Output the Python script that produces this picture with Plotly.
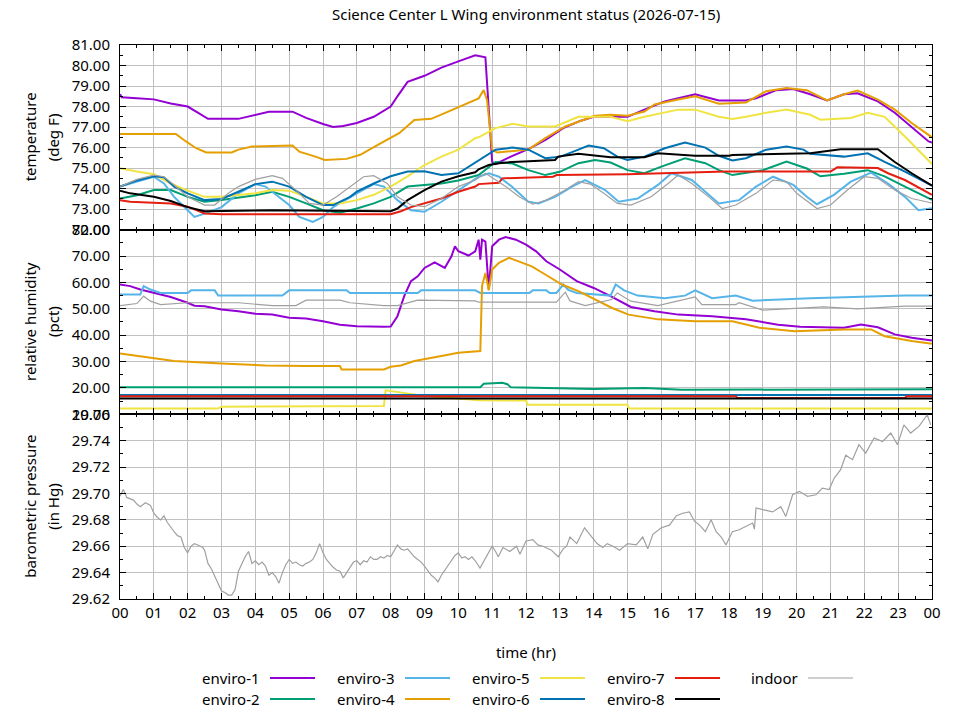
import plotly.graph_objects as go
from plotly.subplots import make_subplots

TITLE = "Science Center L Wing environment status (2026-07-15)"
NAMES = ["enviro-1", "enviro-2", "enviro-3", "enviro-4", "enviro-5",
         "enviro-6", "enviro-7", "enviro-8", "indoor"]
COLORS = ["#9400d3", "#009e73", "#56b4e9", "#e69f00", "#f0e442",
          "#0072b2", "#e51e10", "#000000", "#a0a0a0"]
HOURS = list(range(25))
HOUR_LABELS = ["%02d" % (h % 24) for h in HOURS]
Y_TITLES = [("temperature", "(deg F)"), ("relative humidity", "(pct)"),
            ("barometric pressure", "(in Hg)")]

# ---- temperature (deg F) ----
t_e1 = [0, 0.05, 0.5, 1, 1.5, 2, 2.3, 2.6, 3.5, 3.9, 4.4, 5.1, 5.5, 6, 6.3, 6.6, 7, 7.5, 7.8, 8,
        8.2, 8.5, 9, 9.5, 10, 10.3, 10.5, 10.8, 10.9, 11.0, 11.1, 11.6, 12.1, 12.6, 13.1, 13.6, 14.0,
        15.0, 15.5, 16.1, 16.5, 17.0, 17.7, 18.5, 18.8, 19.4, 19.9, 20.4, 20.9, 21.4, 21.8, 22.4,
        22.9, 23.4, 23.9, 24]
v_e1 = [78.6, 78.45, 78.4, 78.35, 78.15, 78.0, 77.7, 77.4, 77.4, 77.55, 77.75, 77.75, 77.45, 77.15,
        77.0, 77.05, 77.2, 77.5, 77.8, 78.0, 78.5, 79.2, 79.5, 79.9, 80.2, 80.4, 80.5, 80.4, 78.0,
        75.3, 75.2, 75.6, 75.95, 76.4, 76.95, 77.3, 77.5, 77.5, 77.85, 78.25, 78.4, 78.6, 78.3,
        78.3, 78.4, 78.8, 78.85, 78.6, 78.3, 78.6, 78.65, 78.25, 77.7, 77.0, 76.3, 76.25]

t_e2 = [0, 0.5, 1, 1.5, 2, 2.5, 3, 3.5, 4, 4.5, 5, 5.5, 6, 6.5, 7, 7.5, 8, 8.5, 9, 9.5, 10, 10.6,
        11.1, 11.6, 12.07, 12.57, 13.0, 13.55, 14.04, 14.5, 15.0, 15.5, 16.0, 16.7, 17.3, 17.7,
        18.1, 19.0, 19.7, 20.3, 20.7, 21.4, 22.1, 22.6, 23.2, 24]
v_e2 = [73.52, 73.68, 73.93, 73.93, 73.6, 73.36, 73.45, 73.57, 73.68, 73.85, 73.6, 73.28, 72.95,
        72.82, 73.03, 73.28, 73.6, 74.1, 74.18, 74.25, 74.4, 74.66, 75.3, 75.22, 74.9, 74.66,
        74.82, 75.24, 75.4, 75.27, 74.9, 74.75, 75.07, 75.48, 75.24, 74.9, 74.66, 74.9, 75.32,
        74.98, 74.6, 74.72, 74.9, 74.6, 74.1, 73.45]

t_e3 = [0, 0.5, 1, 1.3, 1.6, 2, 2.2, 2.5, 3, 3.5, 4, 4.3, 4.7, 5, 5.3, 5.7, 6, 6.3, 7, 7.5, 7.8,
        8.2, 8.6, 9, 9.5, 10, 10.6, 10.9, 11.2, 11.58, 12.07, 12.37, 12.86, 13.36, 13.75, 14.34,
        14.74, 15.3, 15.9, 16.3, 16.9, 17.3, 17.7, 18.3, 18.8, 19.3, 19.9, 20.3, 20.6, 21.1, 21.6,
        22.2, 22.7, 23.2, 23.6, 24]
v_e3 = [74.1, 74.34, 74.58, 74.25, 73.6, 72.95, 72.62, 72.78, 73.1, 73.77, 74.22, 74.1, 73.6,
        73.2, 72.62, 72.38, 72.62, 73.1, 73.77, 74.22, 74.1, 73.44, 72.95, 72.87, 73.36, 73.93,
        74.58, 74.75, 74.58, 74.1, 73.36, 73.28, 73.6, 74.1, 74.42, 73.93, 73.36, 73.52, 74.18,
        74.75, 74.42, 73.85, 73.28, 73.44, 74.1, 74.58, 74.18, 73.6, 73.24, 73.7, 74.34, 74.78,
        74.25, 73.6, 72.95, 73.05]

t_e4 = [0, 1.65, 1.95, 2.25, 2.55, 3.3, 3.5, 3.9, 5.1, 5.3, 5.8, 6.05, 6.7, 7.1, 7.7, 8.25, 8.7,
        9.2, 9.7, 10.2, 10.6, 10.75, 10.85, 11.0, 11.15, 12.07, 12.57, 13.16, 14.04, 14.5, 15.0,
        15.5, 15.8, 16.5, 17.0, 17.7, 18.5, 19.1, 19.7, 20.3, 20.9, 21.4, 21.8, 22.4, 22.9, 23.4, 24]
v_e4 = [76.66, 76.66, 76.3, 75.97, 75.76, 75.76, 75.9, 76.05, 76.1, 75.8, 75.55, 75.4, 75.45,
        75.65, 76.2, 76.7, 77.35, 77.4, 77.75, 78.1, 78.4, 78.8, 78.3, 75.9, 75.76, 75.9, 76.46,
        77.03, 77.55, 77.6, 77.55, 77.76, 78.1, 78.34, 78.5, 78.14, 78.2, 78.75, 78.9, 78.8, 78.3,
        78.6, 78.78, 78.34, 77.85, 77.2, 76.5]

t_e5 = [0, 0.5, 1, 1.5, 2, 2.5, 3, 3.5, 4, 4.5, 5, 5.5, 6, 6.5, 7, 7.5, 8, 8.5, 9, 9.5, 10, 10.5,
        10.6, 11.1, 11.6, 12.07, 12.86, 13.55, 14.5, 15.0, 15.5, 16.5, 17.0, 17.7, 18.1, 18.5,
        19.1, 19.7, 20.4, 20.7, 21.6, 22.1, 22.6, 23.2, 24]
v_e5 = [75.0, 74.83, 74.7, 74.25, 73.9, 73.6, 73.6, 73.7, 73.77, 73.93, 73.9, 73.6, 73.28, 73.28,
        73.44, 73.7, 74.1, 74.6, 75.15, 75.56, 75.9, 76.46, 76.5, 76.95, 77.16, 77.03, 77.03,
        77.5, 77.5, 77.28, 77.5, 77.85, 77.85, 77.5, 77.4, 77.5, 77.7, 77.85, 77.6, 77.36, 77.44,
        77.7, 77.5, 76.54, 75.2]

t_e6 = [0, 0.5, 1, 1.3, 1.6, 2, 2.5, 3, 3.5, 4, 4.5, 5, 5.5, 6, 6.3, 6.8, 7, 7.5, 8, 8.5, 9, 9.5,
        10, 10.3, 10.6, 11.1, 11.6, 12.07, 12.57, 13.0, 13.55, 13.85, 14.3, 14.7, 15.0, 15.5, 16.1,
        16.7, 17.3, 17.7, 18.1, 18.5, 19.1, 19.7, 20.2, 20.4, 21.4, 22.1, 22.6, 23.2, 24]
v_e6 = [74.1, 74.4, 74.6, 74.55, 74.1, 73.77, 73.44, 73.5, 73.85, 74.22, 74.34, 74.1, 73.6, 73.2,
        73.2, 73.6, 73.85, 74.25, 74.6, 74.83, 74.85, 74.66, 74.75, 75.07, 75.4, 75.9, 76.0, 75.9,
        75.48, 75.55, 75.9, 76.1, 75.97, 75.56, 75.4, 75.56, 75.97, 76.25, 76.0, 75.6, 75.37,
        75.48, 75.9, 76.05, 75.9, 75.7, 75.56, 75.72, 75.3, 74.83, 74.15]

t_e7 = [0, 0.3, 1.5, 2, 2.5, 3, 8.0, 8.3, 8.6, 9, 9.5, 10, 10.5, 10.6, 11.2, 11.3, 12.8, 12.9,
        15.0, 17.9, 21.0, 21.2, 22.4, 22.7, 23.2, 24]
v_e7 = [73.44, 73.36, 73.28, 73.12, 72.79, 72.75, 72.75, 72.9, 73.1, 73.28, 73.52, 73.85, 74.1,
        74.22, 74.29, 74.5, 74.58, 74.66, 74.7, 74.83, 74.83, 75.04, 75.0, 74.75, 74.42, 73.7]

t_e8 = [0, 0.3, 1, 1.5, 2, 2.5, 4.5, 8.0, 8.2, 8.5, 9, 9.5, 10, 10.5, 10.6, 10.9, 11.2, 11.6,
        12.86, 12.95, 13.55, 14.5, 15.5, 15.9, 17.0, 18.0, 18.1, 19.45, 20.4, 21.3, 22.4, 22.9,
        23.4, 24]
v_e8 = [73.9, 73.77, 73.6, 73.4, 73.1, 72.9, 72.95, 72.9, 73.03, 73.44, 73.93, 74.34, 74.6, 74.8,
        74.94, 75.15, 75.24, 75.3, 75.4, 75.56, 75.7, 75.53, 75.53, 75.72, 75.6, 75.6, 75.64,
        75.7, 75.72, 75.92, 75.92, 75.3, 74.75, 74.15]

t_in = [0, 0.5, 1, 1.3, 1.6, 2, 2.5, 2.8, 3.2, 3.5, 4, 4.5, 4.8, 5.2, 5.6, 6, 6.4, 6.8, 7.2, 7.5,
        7.9, 8.2, 8.6, 9, 9.5, 10, 10.5, 10.8, 11.4, 11.8, 12.2, 12.6, 13.16, 13.55, 13.9, 14.3,
        14.7, 15.1, 15.7, 16.2, 16.5, 16.9, 17.4, 17.8, 18.2, 18.8, 19.3, 19.7, 20.0, 20.6, 21.0,
        21.5, 22.0, 22.4, 22.9, 23.4, 24]
v_in = [74.1, 74.45, 74.66, 74.58, 74.18, 73.6, 73.2, 73.2, 73.77, 74.1, 74.45, 74.63, 74.5, 73.93,
        73.28, 73.2, 73.6, 74.1, 74.58, 74.63, 74.25, 73.6, 73.2, 73.12, 73.52, 74.1, 74.42,
        74.75, 74.1, 73.6, 73.24, 73.44, 73.93, 74.34, 74.22, 73.77, 73.28, 73.2, 73.6, 74.25,
        74.66, 74.25, 73.6, 73.03, 73.2, 73.77, 74.42, 74.34, 73.77, 73.03, 73.2, 73.93, 74.58,
        74.5, 73.93, 73.52, 73.3]

# ---- relative humidity (pct) ----
ht_e1 = [0, 0.3, 0.6, 1, 1.5, 2, 2.2, 2.5, 3, 3.5, 4, 4.5, 5, 5.5, 6, 6.5, 7, 7.8, 8.0, 8.2, 8.4,
         8.6, 8.8, 9, 9.3, 9.6, 9.8, 9.9, 10, 10.3, 10.5, 10.6, 10.65, 10.7, 10.8, 10.9, 11.0,
         11.2, 11.4, 11.7, 12.0, 12.3, 12.6, 13.0, 13.5, 14.0, 14.5, 15.1, 15.8, 16.5, 17.5, 18.5,
         19.45, 20.1, 21.4, 21.9, 22.4, 22.9, 23.4, 24]
hv_e1 = [59.2, 58.6, 57.3, 56.0, 54.5, 52.3, 51.2, 51.0, 49.7, 49.1, 48.1, 47.8, 46.6, 46.3, 45.3,
         44.0, 43.4, 43.2, 43.3, 47.2, 54.8, 60.5, 62.3, 65.5, 67.6, 65.5, 70.0, 73.7, 71.8, 70.2,
         71.8, 76.2, 68.6, 76.2, 75.5, 57.3, 73.7, 76.2, 77.2, 76.2, 74.3, 71.8, 68.0, 64.9, 60.5,
         57.9, 54.8, 50.7, 49.1, 47.8, 47.2, 46.0, 44.0, 43.2, 42.8, 44.0, 43.0, 40.3, 39.0, 38.0]

ht_e2 = [0, 10.65, 10.75, 11.3, 11.45, 11.55, 14.0, 15.5, 16.6, 24]
hv_e2 = [20.3, 20.3, 21.6, 22.0, 21.4, 20.3, 19.6, 20.0, 19.3, 19.5]

ht_e3 = [0, 0.6, 0.7, 0.9, 1.2, 2.0, 2.1, 2.8, 2.9, 4.8, 5.0, 6.7, 6.8, 8.8, 8.9, 10.5, 10.65,
         12.1, 12.2, 12.6, 12.7, 12.9, 13.1, 13.25, 13.5, 14.5, 14.65, 14.9, 15.3, 16.1, 16.7,
         17.0, 17.5, 18.2, 18.7, 20.4, 23.2, 24]
hv_e3 = [55.4, 55.4, 58.6, 57.3, 56.0, 56.0, 57.0, 57.0, 55.0, 55.0, 57.0, 57.0, 56.0, 56.0, 57.0,
         57.0, 56.0, 56.0, 57.0, 57.0, 56.0, 56.0, 59.2, 57.2, 56.0, 55.0, 59.2, 57.0, 55.0, 54.0,
         55.0, 57.0, 54.0, 55.0, 53.1, 54.0, 55.0, 55.0]

ht_e4 = [0, 0.9, 1.6, 3.0, 4.3, 5.5, 6.5, 6.55, 7.8, 8.0, 8.3, 8.7, 9.0, 9.5, 10.0, 10.5, 10.65,
         10.7, 10.8, 10.9, 11.0, 11.2, 11.5, 11.78, 12.17, 12.57, 13.06, 13.55, 14.53, 15.03,
         15.9, 17.0, 18.1, 18.9, 19.94, 21.4, 22.2, 22.6, 23.4, 24]
hv_e4 = [33.1, 31.5, 30.2, 29.3, 28.5, 28.3, 28.3, 27.0, 27.0, 28.0, 28.5, 30.2, 31.0, 32.1, 33.3,
         34.0, 34.0, 58.6, 63.6, 57.0, 64.9, 67.4, 69.3, 68.0, 66.1, 63.0, 59.2, 56.7, 50.4, 47.8,
         46.0, 45.3, 45.3, 42.8, 41.5, 42.2, 42.2, 39.6, 37.8, 36.8]

ht_e5 = [0, 2.9, 3.0, 7.8, 7.85, 8.35, 9.0, 10.6, 12.0, 12.05, 15.0, 15.05, 24]
hv_e5 = [12.2, 12.2, 12.9, 13.2, 19.1, 18.2, 17.0, 15.3, 15.2, 13.6, 13.6, 12.2, 12.2]

ht_e6 = [0, 24]
hv_e6 = [17.3, 17.3]

ht_e7 = [0, 18.2, 18.25, 23.2, 23.25, 24]
hv_e7 = [16.9, 16.9, 16.2, 16.2, 16.9, 16.9]

ht_e8 = [0, 24]
hv_e8 = [16.0, 16.0]

ht_in = [0, 0.5, 0.7, 0.9, 1.2, 2.0, 3.5, 4.5, 5.2, 5.5, 6.5, 6.8, 7.8, 8.2, 8.8, 10.5, 10.6,
         12.9, 13.16, 13.3, 13.75, 14.53, 14.7, 15.1, 15.9, 17.0, 17.2, 18.2, 18.3, 19.0, 20.8,
         21.8, 23.2, 24]
hv_in = [51.2, 52.0, 54.8, 52.9, 51.6, 52.3, 52.3, 51.2, 51.2, 53.3, 53.3, 52.3, 51.2, 51.2, 53.3,
         53.0, 52.5, 52.5, 56.3, 53.0, 51.2, 53.5, 56.0, 52.9, 51.2, 54.5, 51.6, 51.6, 52.3, 49.5,
         50.7, 50.0, 51.0, 51.0]

# ---- barometric pressure (in Hg), indoor only ----
p_t = [0, 0.1, 0.2, 0.4, 0.5, 0.6, 0.75, 0.9, 1.0, 1.1, 1.2, 1.3, 1.4, 1.5, 1.6, 1.7, 1.8, 1.9,
       2.0, 2.1, 2.2, 2.3, 2.45, 2.5, 2.6, 2.7, 2.8, 2.9, 3.0, 3.1, 3.2, 3.3, 3.4, 3.5, 3.6, 3.7,
       3.8, 3.9, 4.0, 4.1, 4.2, 4.3, 4.4, 4.5, 4.6, 4.7, 4.8, 4.9, 5.0, 5.1, 5.2, 5.3, 5.4, 5.5,
       5.6, 5.7, 5.8, 5.9, 6.0, 6.1, 6.2, 6.3, 6.4, 6.5, 6.6, 6.7, 6.8, 6.9, 7.0, 7.1, 7.2, 7.3,
       7.4, 7.5, 7.6, 7.7, 7.8, 7.9, 8.0, 8.1, 8.2, 8.3, 8.4, 8.5, 8.6, 8.7, 8.8, 8.9, 9.0, 9.1,
       9.2, 9.3, 9.4, 9.5, 9.6, 9.7, 9.8, 9.9, 10.0, 10.1, 10.2, 10.3, 10.4, 10.5, 10.64, 10.83,
       11.0, 11.1, 11.18, 11.32, 11.52, 11.72, 11.82, 12.0, 12.2, 12.35, 12.5, 12.75, 12.95, 13.1,
       13.2, 13.3, 13.5, 13.73, 13.98, 14.1, 14.27, 14.4, 14.57, 14.77, 15.0, 15.26, 15.45, 15.6,
       15.75, 16.0, 16.24, 16.44, 16.63, 16.83, 16.98, 17.13, 17.3, 17.47, 17.62, 17.77, 17.91,
       18.1, 18.3, 18.5, 18.7, 18.75, 18.8, 19.0, 19.29, 19.53, 19.68, 19.88, 20.08, 20.32, 20.57,
       20.76, 20.96, 21.11, 21.3, 21.45, 21.65, 21.84, 22.04, 22.29, 22.54, 22.78, 22.98, 23.17,
       23.37, 23.62, 23.86, 23.96]
p_v = [29.698, 29.703, 29.697, 29.695, 29.692, 29.690, 29.693, 29.691, 29.685, 29.682, 29.680,
       29.683, 29.678, 29.674, 29.671, 29.668, 29.667, 29.659, 29.655, 29.660, 29.662, 29.661,
       29.659, 29.657, 29.647, 29.643, 29.637, 29.631, 29.626, 29.625, 29.623, 29.623, 29.627,
       29.641, 29.647, 29.652, 29.656, 29.647, 29.649, 29.646, 29.648, 29.645, 29.638, 29.640,
       29.637, 29.632, 29.640, 29.646, 29.650, 29.647, 29.648, 29.646, 29.645, 29.647, 29.648,
       29.650, 29.655, 29.662, 29.655, 29.650, 29.647, 29.644, 29.642, 29.641, 29.636, 29.640,
       29.645, 29.648, 29.649, 29.646, 29.649, 29.648, 29.652, 29.650, 29.650, 29.652, 29.651,
       29.653, 29.652, 29.656, 29.661, 29.658, 29.657, 29.658, 29.655, 29.652, 29.650, 29.648,
       29.645, 29.641, 29.638, 29.636, 29.633, 29.638, 29.642, 29.646, 29.650, 29.653, 29.655,
       29.651, 29.652, 29.650, 29.652, 29.649, 29.6435, 29.652, 29.660, 29.656, 29.652, 29.659,
       29.656, 29.660, 29.654, 29.664, 29.665, 29.661, 29.660, 29.657, 29.652, 29.658, 29.660,
       29.667, 29.662, 29.674, 29.666, 29.662, 29.659, 29.662, 29.660, 29.657, 29.662, 29.661,
       29.667, 29.658, 29.669, 29.674, 29.676, 29.683, 29.685, 29.686, 29.679, 29.676, 29.671,
       29.680, 29.671, 29.667, 29.661, 29.671, 29.6725, 29.675, 29.6776, 29.673, 29.689, 29.6877,
       29.686, 29.690, 29.6826, 29.699, 29.7016, 29.6978, 29.699, 29.704, 29.703, 29.7117,
       29.718, 29.729, 29.7256, 29.737, 29.7306, 29.742, 29.7394, 29.7458, 29.737, 29.752,
       29.7458, 29.751, 29.7597, 29.752]

TEMP = [(t_e1, v_e1), (t_e2, v_e2), (t_e3, v_e3), (t_e4, v_e4), (t_e5, v_e5),
        (t_e6, v_e6), (t_e7, v_e7), (t_e8, v_e8), (t_in, v_in)]
HUM = [(ht_e1, hv_e1), (ht_e2, hv_e2), (ht_e3, hv_e3), (ht_e4, hv_e4), (ht_e5, hv_e5),
       (ht_e6, hv_e6), (ht_e7, hv_e7), (ht_e8, hv_e8), (ht_in, hv_in)]

FONT = "Noto Sans"
W, H = 960, 720
PLOT_L, PLOT_R, PLOT_T, PLOT_B = 120, 932, 45, 599   # pixels of the plot frame
ML, MR = PLOT_L, W - PLOT_R
MT, MB = PLOT_T, H - PLOT_B


def px(x):
    return (x - PLOT_L) / (PLOT_R - PLOT_L)


def py(y):
    return (PLOT_B - y) / (PLOT_B - PLOT_T)


fig = make_subplots(rows=3, cols=1, shared_xaxes=True, vertical_spacing=0)

for i, name in enumerate(NAMES):
    lw = 1.2 if name == "indoor" else 2
    for row, series in ((1, TEMP), (2, HUM)):
        t, v = series[i]
        fig.add_trace(go.Scatter(x=t, y=v, mode="lines", name=name, showlegend=False,
                                 line=dict(color=COLORS[i], width=lw)), row=row, col=1)
fig.add_trace(go.Scatter(x=p_t, y=p_v, mode="lines", name="indoor", showlegend=False,
                         line=dict(color=COLORS[-1], width=1.2)), row=3, col=1)

axis_common = dict(showline=True, linecolor="black", linewidth=1, mirror="ticks",
                   ticks="inside", ticklen=6, tickcolor="black", tickwidth=1,
                   showgrid=True, gridcolor="#c0c0c0", gridwidth=1, zeroline=False,
                   tickfont=dict(family=FONT, size=15, color="black"))

for r in (1, 2, 3):
    fig.update_xaxes(range=[0, 24], tickmode="array", tickvals=HOURS, ticktext=HOUR_LABELS,
                     minor=dict(tickvals=[h + 0.5 for h in HOURS[:-1]], ticks="inside",
                                ticklen=3, tickcolor="black", showgrid=False),
                     **axis_common, row=r, col=1)
fig.update_xaxes(title=dict(text="time (hr)", font=dict(family=FONT, size=15, color="black"),
                            standoff=26), row=3, col=1)

minor_y = dict(ticks="inside", ticklen=3, tickcolor="black", showgrid=False)
fig.update_yaxes(range=[72, 81], tick0=72, dtick=1, tickformat=".2f",
                 minor=dict(dtick=0.5, **minor_y), ticklabelstandoff=6,
                 **axis_common, row=1, col=1)
fig.update_yaxes(range=[10, 80], tick0=10, dtick=10, tickformat=".2f",
                 minor=dict(dtick=5, **minor_y), ticklabelstandoff=6,
                 **axis_common, row=2, col=1)
fig.update_yaxes(range=[29.62, 29.76], tick0=29.62, dtick=0.02, tickformat=".2f",
                 minor=dict(dtick=0.01, **minor_y), ticklabelstandoff=6,
                 **axis_common, row=3, col=1)

annotations = []
shapes = []

# title as a plain text block near the top edge
annotations.append(dict(text=TITLE, xref="paper", yref="paper", x=px(526), y=py(14),
                        xanchor="center", yanchor="middle", showarrow=False,
                        font=dict(family=FONT, size=15, color="black")))

# two-line rotated y titles, one per panel
for k, (line1, line2) in enumerate(Y_TITLES):
    cy = (2.5 - k) / 3
    for text, xpix in ((line1, 30), (line2, 53)):
        annotations.append(dict(text=text, xref="paper", yref="paper", x=px(xpix), y=cy,
                                xanchor="center", yanchor="middle", textangle=-90,
                                showarrow=False, font=dict(family=FONT, size=15, color="black")))

# key below the plot: label on the left, line sample on the right, column-major
key_cols = [270, 405, 540, 675, 808]
key_rows = [678, 699]
for i, name in enumerate(NAMES):
    cx = key_cols[i // 2]
    cy = key_rows[i % 2]
    shapes.append(dict(type="line", xref="paper", yref="paper",
                       x0=px(cx), x1=px(cx + 45), y0=py(cy), y1=py(cy),
                       line=dict(color=COLORS[i], width=1.2 if name == "indoor" else 2)))
    annotations.append(dict(text=name, xref="paper", yref="paper", x=px(cx - 8), y=py(cy),
                            xanchor="right", yanchor="middle", showarrow=False,
                            font=dict(family=FONT, size=15, color="black")))

fig.update_layout(
    width=W, height=H,
    margin=dict(l=ML, r=MR, t=MT, b=MB, autoexpand=False),
    paper_bgcolor="white", plot_bgcolor="white",
    shapes=shapes, annotations=annotations,
    showlegend=False,
)

# drop the default 8px page margin so the figure fills the window exactly
fig.write_html("out.html", config={"displayModeBar": False},
               post_script="document.body.style.margin = '0px';")
